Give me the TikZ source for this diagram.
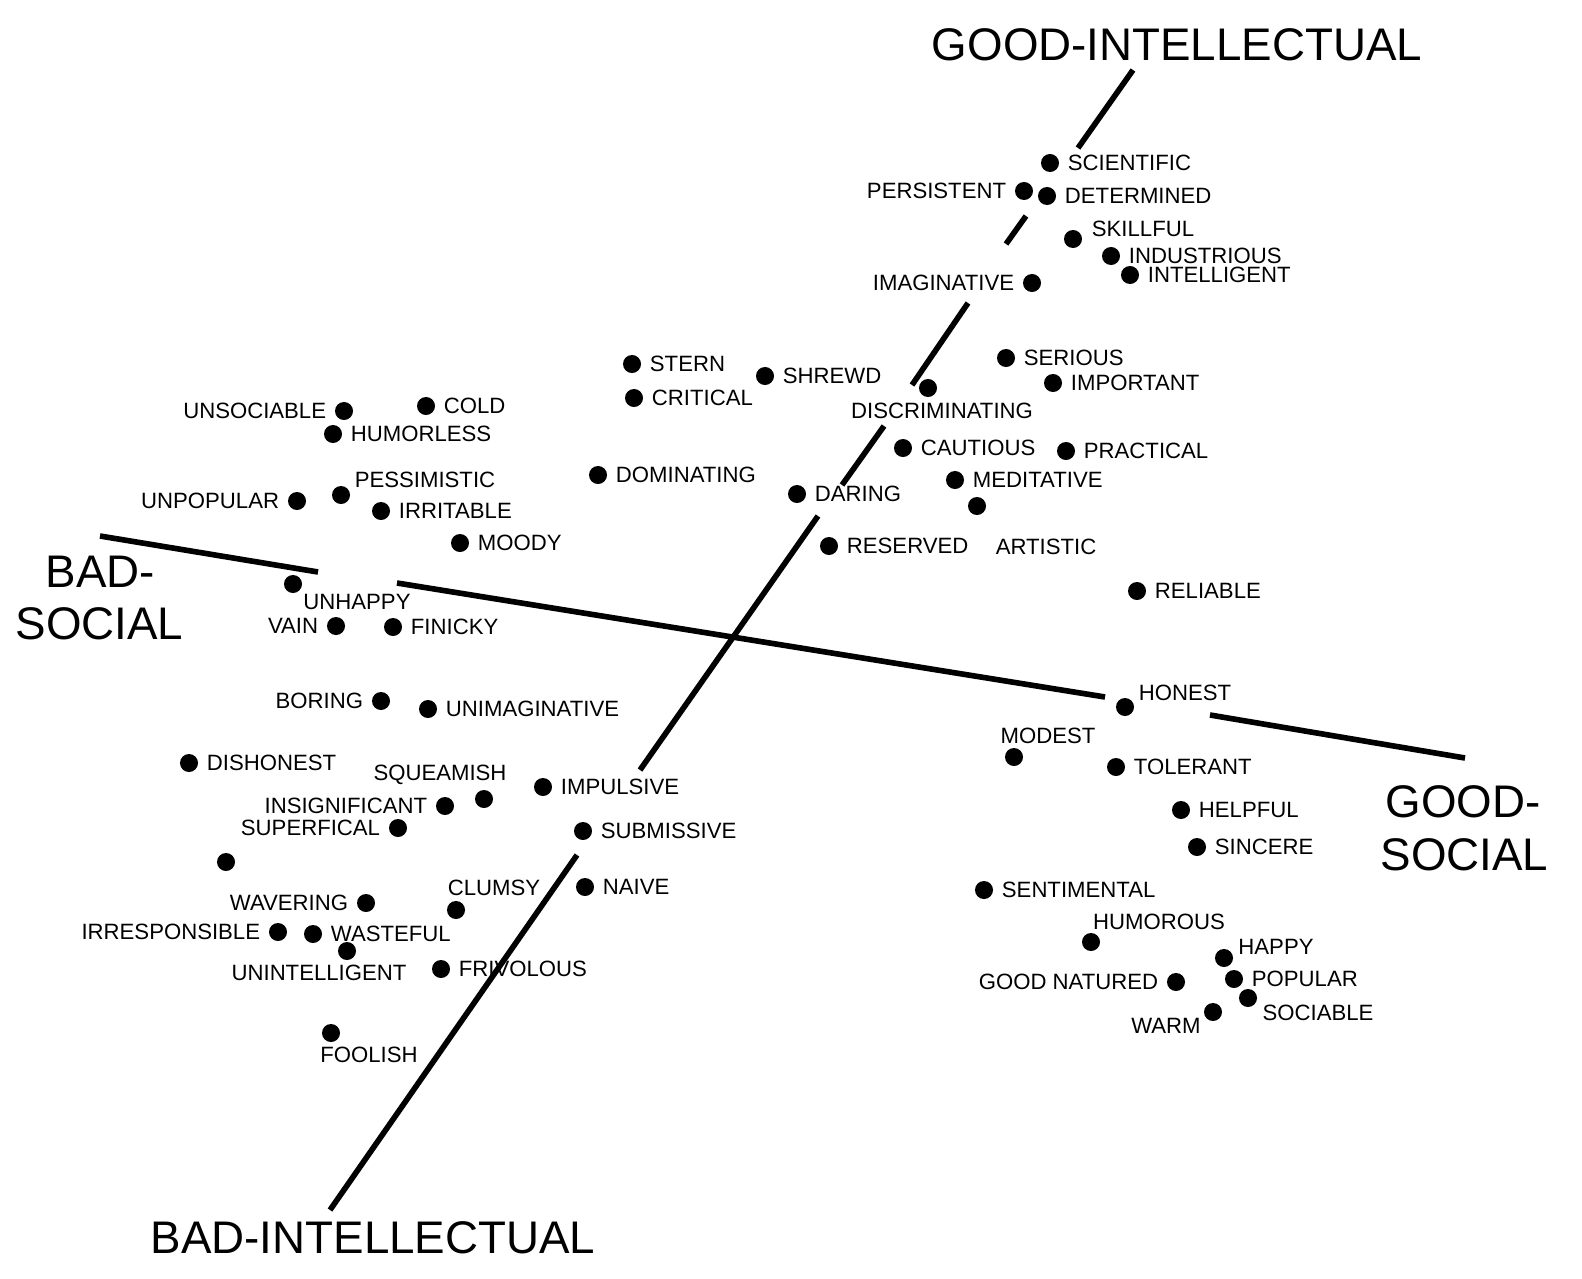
\documentclass[tikz,border=0pt]{standalone}
\usepackage{fontspec}
\setmainfont{Liberation Sans}
\begin{document}
\begin{tikzpicture}[x=0.01cm,y=-0.01cm,
    dot/.style={circle,fill=black,inner sep=0pt,minimum size=0.18cm},
    word/.style={font=\fontsize{6.3}{7}\selectfont,inner sep=1pt},
    pole/.style={font=\fontsize{13}{15}\selectfont,align=left,inner sep=0pt},
    axis/.style={line width=1.6pt}]
  \useasboundingbox (0,0) rectangle (1582,1279);

  % Axes
  \draw[axis] (1133,70) -- (1078,148);
  \draw[axis] (1026,216) -- (1006,244);
  \draw[axis] (968,303) -- (912,385);
  \draw[axis] (884,426) -- (842,485);
  \draw[axis] (818,516) -- (640,770);
  \draw[axis] (577,855) -- (330,1210);
  \draw[axis] (100,536) -- (318,572);
  \draw[axis] (397,583) -- (1105,697);
  \draw[axis] (1210,715) -- (1465,758);

  % Poles
  \node[pole] (goodint) at (1177,45) {GOOD-INTELLECTUAL};
  \node[pole] (badint) at (373,1238) {BAD-INTELLECTUAL};
  \node[pole,anchor=west] (badsoc) at (15,598) {\hspace*{0.3cm}BAD-\\SOCIAL};
  \node[pole,anchor=west] (goodsoc) at (1380,828) {\hspace*{0.05cm}GOOD-\\SOCIAL};

  % Dots labelled on the right
  \foreach \x/\y/\t in {1050/163/SCIENTIFIC, 1047/196/DETERMINED, 1111/256/INDUSTRIOUS,
      1130/275/INTELLIGENT, 632/364/STERN, 765/376/SHREWD, 1006/358/SERIOUS,
      1053/383/IMPORTANT, 426/406/COLD, 634/398/CRITICAL, 333/434/HUMORLESS,
      903/448/CAUTIOUS, 1066/451/PRACTICAL, 598/475/DOMINATING, 955/480/MEDITATIVE,
      797/494/DARING, 381/511/IRRITABLE, 460/543/MOODY, 829/546/RESERVED,
      1137/591/RELIABLE, 393/627/FINICKY, 428/709/UNIMAGINATIVE, 189/763/DISHONEST,
      1116/767/TOLERANT, 543/787/IMPULSIVE, 1181/810/HELPFUL, 583/831/SUBMISSIVE,
      1197/847/SINCERE, 585/887/NAIVE, 984/890/SENTIMENTAL, 313/934/WASTEFUL,
      441/969/FRIVOLOUS, 1234/979/POPULAR}
    \node[dot] (p\t) at (\x,\y) {} node[word,anchor=west] at ([xshift=0.04cm]p\t.east) {\t};

  % Dots labelled on the left
  \foreach \x/\y/\t in {1024/191/PERSISTENT, 1032/283/IMAGINATIVE, 344/411/UNSOCIABLE,
      297/501/UNPOPULAR, 336/626/VAIN, 381/701/BORING, 445/806/INSIGNIFICANT,
      398/828/SUPERFICAL, 366/903/WAVERING, 278/932/IRRESPONSIBLE, 1176/982/GOOD NATURED}
    \node[dot] (p\t) at (\x,\y) {} node[word,anchor=east] at ([xshift=-0.04cm]p\t.west) {\t};

  % Dots with labels placed apart
  \foreach \x/\y/\lx/\ly/\t in {1073/239/1143/229/SKILLFUL, 928/388/942/411/DISCRIMINATING,
      341/495/425/480/PESSIMISTIC, 977/506/1046/547/ARTISTIC, 293/584/357/602/UNHAPPY,
      1125/707/1185/693/HONEST, 1014/757/1048/736/MODEST, 484/799/440/775/SQUEAMISH,
      456/910/494/888/CLUMSY, 1091/942/1159/922/HUMOROUS, 347/951/319/973/UNINTELLIGENT,
      1224/958/1276/947/HAPPY, 1248/998/1318/1013/SOCIABLE, 1213/1012/1166/1026/WARM,
      331/1033/369/1055/FOOLISH}
    \node[dot] (p\t) at (\x,\y) {} node[word] at (\lx,\ly) {\t};

  \node[dot] (pblank) at (226,862) {};
\end{tikzpicture}
\end{document}
